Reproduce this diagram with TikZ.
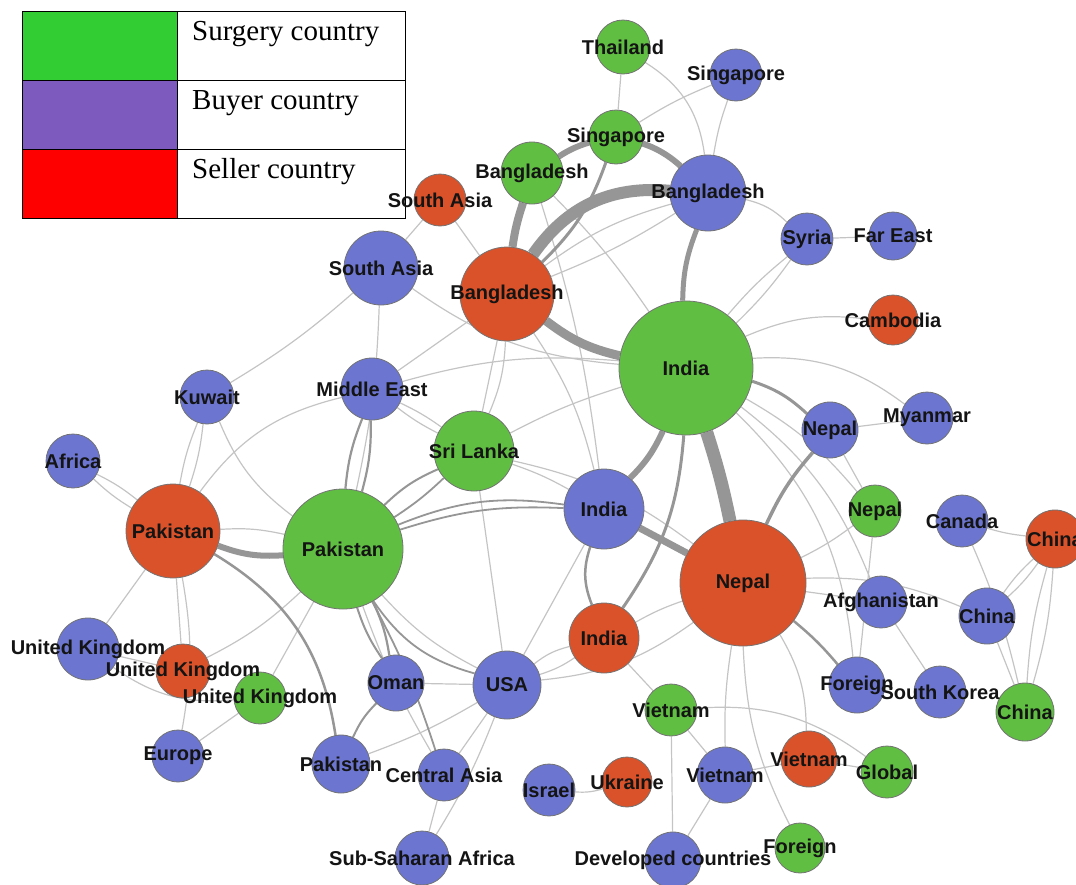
\documentclass[tikz,border=0pt]{standalone}
\usepackage{fontspec}
\setmainfont{Liberation Sans}
\newfontfamily\legendfont{Liberation Serif}
\usetikzlibrary{positioning,backgrounds}

\definecolor{surgery}{RGB}{96,190,66}
\definecolor{buyer}{RGB}{108,118,208}
\definecolor{seller}{RGB}{218,82,42}
\definecolor{legS}{RGB}{50,205,50}
\definecolor{legB}{RGB}{124,90,190}
\definecolor{legR}{RGB}{255,0,0}
\definecolor{linkgray}{RGB}{150,150,150}
\definecolor{faintgray}{RGB}{196,196,196}

\tikzset{
  country/.style={circle, draw=black!55, line width=0.8pt, inner sep=0pt},
  name tag/.style={font=\fontsize{20}{22}\selectfont\bfseries, text=black!92, inner sep=0pt},
  link/.style={draw=linkgray},
  faint/.style={draw=faintgray, line width=1.2pt},
  legcell/.style={draw=black, line width=0.9pt, minimum height=69.3pt, inner sep=0pt, outer sep=0pt},
  legtext/.style={font=\legendfont\fontsize{29}{31}\selectfont, anchor=base west, inner sep=0pt}
}

\def\countries{thaiS/623/47/27/surgery/Thailand, singB/736/75/26/buyer/Singapore,
  singS/616/137/27/surgery/Singapore, bangS/532/173/31/surgery/Bangladesh,
  saR/440/200/26/seller/South Asia, bangB/708/193/38/buyer/Bangladesh,
  syriaB/807/239/26/buyer/Syria, fareastB/893/236/24/buyer/Far East,
  saB/381/268/37/buyer/South Asia, bangR/507/294/47/seller/Bangladesh,
  cambR/893/320/25/seller/Cambodia, indS/686/368/67/surgery/India,
  kuwB/207/397/27/buyer/Kuwait, meB/372/389/31/buyer/Middle East,
  nepB/830/430/28/buyer/Nepal, myaB/927/418/26/buyer/Myanmar,
  afrB/73/461/27/buyer/Africa, sriS/474/451/40/surgery/Sri Lanka,
  indB/604/509/40/buyer/India, nepS/875/511/26/surgery/Nepal,
  canB/962/521/26/buyer/Canada, chiR/1055/539/29/seller/China,
  pakR/173/531/47/seller/Pakistan, pakS/343/549/60/surgery/Pakistan,
  nepR/743/583/63/seller/Nepal, afgB/881/602/26/buyer/Afghanistan,
  chiB/987/616/28/buyer/China, indR/604/638/35/seller/India,
  ukB/88/649/31/buyer/United Kingdom, ukR/183/671/27/seller/United Kingdom,
  ukS/260/698/26/surgery/United Kingdom, omaB/396/683/28/buyer/Oman,
  usaB/507/685/34/buyer/USA, forB/857/685/28/buyer/Foreign,
  skoB/940/692/26/buyer/South Korea, chiS/1025/712/29/surgery/China,
  vieS/671/710/26/surgery/Vietnam, eurB/178/756/26/buyer/Europe,
  pakB/341/764/29/buyer/Pakistan, caB/444/775/26/buyer/Central Asia,
  isrB/549/790/26/buyer/Israel, ukrR/627/782/25/seller/Ukraine,
  vieB/725/775/28/buyer/Vietnam, vieR/809/759/28/seller/Vietnam,
  gloS/887/772/26/surgery/Global, ssaB/422/858/27/buyer/Sub-Saharan Africa,
  devB/673/860/28/buyer/Developed countries, forS/800/848/25/surgery/Foreign}

\begin{document}
\begin{tikzpicture}[x=1pt,y=1pt]
\useasboundingbox (0,0) rectangle (1076,-884);

% legend
\node[legcell, fill=legS, minimum width=155pt, anchor=north west] (swS) at (22,-11) {};
\node[legcell, fill=legB, minimum width=155pt, below=0pt of swS] (swB) {};
\node[legcell, fill=legR, minimum width=155pt, below=0pt of swB] (swR) {};
\node[legcell, fill=white, minimum width=228pt, right=0pt of swS] (cellS) {};
\node[legcell, fill=white, minimum width=228pt, right=0pt of swB] (cellB) {};
\node[legcell, fill=white, minimum width=228pt, right=0pt of swR] (cellR) {};
\node[legtext] (txtS) at ([xshift=15pt,yshift=-29pt]cellS.north west) {Surgery country};
\node[legtext] (txtB) at ([xshift=15pt,yshift=-29pt]cellB.north west) {Buyer country};
\node[legtext] (txtR) at ([xshift=15pt,yshift=-29pt]cellR.north west) {Seller country};

\foreach \nm/\px/\py/\rad/\kind/\txt in \countries
  \node[country, fill=\kind, minimum size=\rad*2pt] (\nm) at (\px,-\py) {};

\begin{scope}[on background layer]
\foreach \a/\b/\ang in {thaiS/singS/0, thaiS/bangB/25, singS/singB/5, singB/bangB/-5,
  bangB/syriaB/15, syriaB/fareastB/0, indS/syriaB/5, syriaB/indS/5, indS/cambR/15,
  indS/myaB/20, myaB/nepB/0, nepB/nepS/0, nepS/nepR/5, nepS/forB/0, nepR/chiB/12,
  nepR/afgB/0, afgB/skoB/0, canB/chiR/-5, canB/chiS/5, chiB/chiR/6, chiR/chiB/6,
  chiR/chiS/6, chiS/chiR/6, chiB/chiS/0, nepR/vieR/15, nepR/vieB/-5, nepR/forS/-12,
  vieS/gloS/20, vieS/vieB/0, vieS/devB/0, vieB/devB/0, vieB/vieR/0, vieR/gloS/0,
  isrB/ukrR/-10, indR/vieS/0, usaB/indR/12, indR/usaB/8, usaB/nepR/-15, usaB/caB/0,
  usaB/ssaB/5, usaB/omaB/0, usaB/pakB/5, caB/ssaB/0, sriS/usaB/0, bangR/indB/10,
  sriS/indB/5, sriS/nepR/12, sriS/indS/5, sriS/bangR/0, bangR/sriS/10, meB/bangR/0,
  meB/sriS/5, sriS/meB/5, meB/indS/10, saB/saR/0, saR/bangR/0, saB/indS/-15,
  saB/pakS/5, kuwB/saB/-5, kuwB/pakR/6, pakR/kuwB/6, kuwB/pakS/-15, afrB/pakR/6,
  pakR/afrB/6, pakR/meB/20, pakR/pakS/8, pakR/ukB/0, pakR/ukR/0, pakR/eurB/10,
  ukB/ukS/-20, ukR/pakS/-8, ukS/pakS/0, ukS/eurB/0, ukB/ukR/0, caB/pakS/5,
  pakS/usaB/-10, bangB/bangR/5, bangR/bangB/10, bangS/indS/5, bangS/indB/5,
  indS/forB/20, indS/afgB/15, indS/nepS/10, indB/usaB/0, indR/nepR/5}
  \draw[faint] (\a) to[bend left=\ang] (\b);
\foreach \a/\b/\w/\ang in {bangR/indS/9/-12, bangR/bangB/12/30, bangR/bangS/8/5,
  bangS/bangB/6/38, singS/bangR/3/13, bangB/indS/5/-10, indS/nepR/13/3,
  indS/indB/6/10, indB/nepR/7/0, pakR/pakS/6/-12, indS/nepB/3/12, nepB/nepR/3.5/-8,
  indR/indB/2.5/20, indR/indS/3/-15, pakR/pakB/2.5/25, pakS/meB/2.2/8, meB/pakS/2.2/8,
  pakS/omaB/2.2/8, omaB/pakS/2/8, omaB/pakB/2/-10, nepR/forB/2.5/5, pakS/sriS/2/10,
  sriS/pakS/1.8/5, pakS/indB/1.8/15, pakS/indB/1.8/10, pakS/caB/1.8/5, pakS/usaB/1.8/-20}
  \draw[link, line width=\w pt] (\a) to[bend left=\ang] (\b);
\end{scope}

\foreach \nm/\px/\py/\rad/\kind/\txt in \countries
  \node[name tag] (\nm-t) at (\nm) {\txt};
\end{tikzpicture}
\end{document}
